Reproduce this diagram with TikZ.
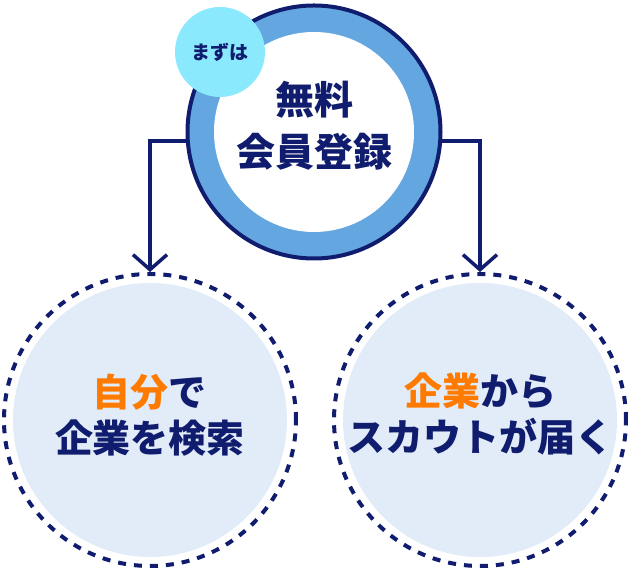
\documentclass[tikz,border=0pt]{standalone}
\usepackage{fontspec}
\newfontfamily\jp{Noto Sans CJK JP}
\usetikzlibrary{arrows.meta}
\definecolor{navy}{HTML}{101C6E}
\definecolor{ringblue}{HTML}{63A6E0}
\definecolor{cyanbadge}{HTML}{8AE9FD}
\definecolor{lightfill}{HTML}{E1ECF8}
\definecolor{accent}{HTML}{FF7A00}
\tikzset{
  dashring/.style={circle, draw=navy, line width=4pt, dash pattern=on 8pt off 8pt, minimum size=292pt, inner sep=0pt},
  innerfill/.style={circle, fill=lightfill, minimum size=274pt, inner sep=0pt},
  bigtext/.style={text=navy, align=center, font=\jp\bfseries\fontsize{38}{46}\selectfont},
  toptext/.style={text=navy, align=center, font=\jp\bfseries\fontsize{39}{52}\selectfont},
  flow/.style={draw=navy, line width=3.5pt, -{Straight Barb[length=15pt, width=34pt, line width=3.5pt]}},
}
\begin{document}
\begin{tikzpicture}[x=1pt,y=1pt]
\useasboundingbox (0,0) rectangle (630,569);
% bottom circles
\node[dashring] (left) at (150,149) {};
\node[innerfill] (leftin) at (150,149) {};
\node[bigtext] (lefttxt) at (150,154) {\textcolor{accent}{自分}で\\企業を検索};
\node[dashring] (right) at (480,149) {};
\node[innerfill] (rightin) at (480,149) {};
\node[bigtext] (righttxt) at (480,155) {\textcolor{accent}{企業}から\\スカウトが届く};
% top circle
\coordinate (tc) at (314,437);
\node[circle, minimum size=252pt, inner sep=0pt] (top) at (tc) {};
\draw[flow] (top.184) -| (left.north);
\draw[flow] (top.-4) -| (right.north);
\node[circle, fill=ringblue, draw=navy, line width=4pt, minimum size=253pt, inner sep=0pt] (ring) at (tc) {};
\node[circle, fill=white, minimum size=200pt, inner sep=0pt] (white) at (tc) {};
\node[toptext] (toptxt) at (314,443) {無料\\会員登録};
\node[circle, fill=cyanbadge, minimum size=90pt, inner sep=0pt, text=navy, font=\jp\bfseries\fontsize{19}{22}\selectfont] (badge) at (220,517) {まずは};
\end{tikzpicture}
\end{document}
